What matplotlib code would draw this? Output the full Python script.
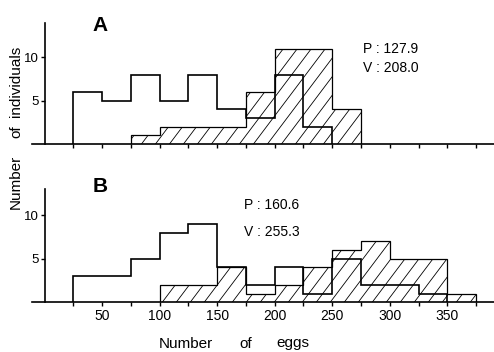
import numpy as np
import matplotlib
matplotlib.use("Agg")
import matplotlib.pyplot as plt
from matplotlib.collections import LineCollection

plt.rcParams['font.family'] = ['Liberation Sans', 'DejaVu Sans']

# ---------------- data ----------------
bin_width = 25
a_open_start = 25
a_open = [6, 5, 8, 5, 8, 4, 3, 8, 2]
a_hatch_start = 75
a_hatch = [1, 2, 2, 2, 6, 11, 11, 4]
b_open_start = 25
b_open = [3, 3, 5, 8, 9, 4, 2, 4, 1, 5, 2, 2, 1]
b_hatch_start = 100
b_hatch = [2, 2, 4, 1, 2, 4, 6, 7, 5, 5, 1]
x_ticks = list(range(25, 400, 25))
y_ticks = [5, 10]
a_stats = ["P : 127.9", "V : 208.0"]
b_stats = ["P : 160.6", "V : 255.3"]

W, H = 494, 352
fig = plt.figure(figsize=(W / 100, H / 100), dpi=100)


def px_axes(l, r, t, b):
    return [l / W, 1 - b / H, (r - l) / W, (b - t) / H]


def edges(start, vals):
    return start + bin_width * np.arange(len(vals) + 1)


def hatch(ax, patch, spacing=14.0, angle=53.0, lw=0.6):
    t = np.tan(np.radians(angle))
    dx = H / t
    xs = np.arange(-dx - 30, W + 30, spacing)
    segs = [[(x0 / 100, 0), ((x0 + dx) / 100, H / 100)] for x0 in xs]
    lc = LineCollection(segs, colors='black', linewidths=lw,
                        transform=fig.dpi_scale_trans)
    lc.set_clip_path(patch)
    ax.add_collection(lc, autolim=False)


xl = ((32 - 44.6) / 1.1506, (494 - 44.6) / 1.1506)

panels = [
    (px_axes(32, 494, 22.7, 144), 14, a_open_start, a_open, a_hatch_start, a_hatch, False),
    (px_axes(32, 494, 189, 302.3), 13, b_open_start, b_open, b_hatch_start, b_hatch, True),
]
axes = []
for rect, ytop, os_, ov, hs, hv, labels in panels:
    ax = fig.add_axes(rect)
    ax.set_xlim(*xl)
    ax.set_ylim(0, ytop)
    patch = ax.stairs(hv, edges(hs, hv), baseline=0, fill=True,
                      facecolor='none', edgecolor='black', linewidth=0.9)
    hatch(ax, patch)
    ax.stairs(ov, edges(os_, ov), baseline=0, fill=False,
              color='black', linewidth=1.2)
    for s in ('top', 'right'):
        ax.spines[s].set_visible(False)
    ax.spines['left'].set_position(('data', 0))
    for s in ('left', 'bottom'):
        ax.spines[s].set_linewidth(1.2)
    ax.set_xticks(x_ticks)
    if labels:
        ax.set_xticklabels(['' if v % 50 else str(v) for v in x_ticks])
    else:
        ax.set_xticklabels([''] * len(x_ticks))
    ax.set_yticks(y_ticks)
    ax.set_yticklabels([str(v) for v in y_ticks])
    ax.tick_params(axis='x', direction='out', length=3, width=1, pad=1.5, labelsize=10)
    ax.tick_params(axis='y', direction='out', length=3, width=1, pad=1, labelsize=9.5)
    ax.patch.set_visible(False)
    axes.append(ax)


def ftext(x, y, s, **kw):
    fig.text(x / W, 1 - y / H, s, **kw)


ftext(92.7, 30.7, "A", fontsize=15, fontweight='bold', ha='left', va='baseline')
ftext(92.7, 192, "B", fontsize=15, fontweight='bold', ha='left', va='baseline')
ftext(363, 53.3, a_stats[0], fontsize=10, ha='left', va='baseline')
ftext(363, 72, a_stats[1], fontsize=10, ha='left', va='baseline')
ftext(244, 209.3, b_stats[0], fontsize=10, ha='left', va='baseline')
ftext(244, 235.7, b_stats[1], fontsize=10, ha='left', va='baseline')

# axis titles (letter-spaced words placed individually)
ftext(185.5, 347.5, "Number", fontsize=11, ha='center', va='baseline')
ftext(245.3, 347.5, "of", fontsize=11, ha='center', va='baseline')
ftext(292.5, 347.5, "eggs", fontsize=11, ha='center', va='baseline')
ftext(16, 181.7, "Number", fontsize=11, rotation=90, ha='center', va='center')
ftext(16, 132, "of", fontsize=11, rotation=90, ha='center', va='center')
ftext(16, 81.5, "individuals", fontsize=11, rotation=90, ha='center', va='center')

fig.savefig("out.png", dpi=100)
